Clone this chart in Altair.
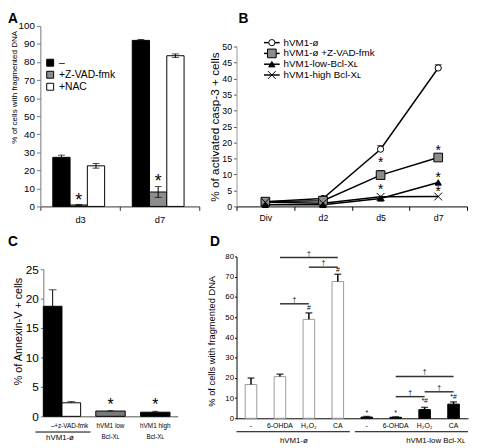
import altair as alt
import pandas as pd

FONT = "Liberation Sans"
X_SHAPE = "M-1.25,-1.25L1.25,1.25M-1.25,1.25L1.25,-1.25"
SQ_SHAPE = "M-1.4,-1.4H1.4V1.4H-1.4Z"

# ---------------- Panel A data ----------------
a_days = ["d3", "d7"]
a_treat = ["–", "+Z-VAD-fmk", "+NAC"]
a_val_d3 = [27.2, 0.8, 22.5]
a_err_d3 = [1.2, 0.3, 1.3]
a_val_d7 = [92.0, 8.0, 83.5]
a_err_d7 = [0.5, 3.0, 1.0]
a_star_day = ["d3", "d7"]
a_star_treat = ["+Z-VAD-fmk", "+Z-VAD-fmk"]
a_star_y = [5.0, 15.5]

# ---------------- Panel B data ----------------
b_days = ["Div", "d2", "d5", "d7"]
b_series = ["hVM1-ø", "hVM1-ø +Z-VAD-fmk", "hVM1-low-Bcl-Xʟ", "hVM1-high Bcl-Xʟ"]
b_val_1 = [1.5, 2.5, 17.9, 43.3]
b_val_2 = [1.5, 1.8, 9.8, 15.3]
b_val_3 = [0.5, 0.5, 2.5, 7.5]
b_val_4 = [1.3, 1.0, 3.0, 3.1]
b_err_series = ["hVM1-ø", "hVM1-ø", "hVM1-ø +Z-VAD-fmk", "hVM1-ø +Z-VAD-fmk"]
b_err_day = ["d5", "d7", "d5", "d7"]
b_err_val = [17.9, 43.3, 9.8, 15.3]
b_err = [1.1, 1.0, 1.4, 0.5]
b_star_day = ["d5", "d5", "d7", "d7", "d7"]
b_star_y = [14.4, 6.0, 18.2, 9.8, 5.5]

# ---------------- Panel C data ----------------
c_groups = ["hVM1-ø", "hVM1 low Bcl-Xʟ", "hVM1 high Bcl-Xʟ"]
c_treat = ["–", "+z-VAD-fmk"]
c_val_ctrl = [18.7, 2.3]
c_err_ctrl = [2.8, 0.2]
c_val_bcl = [0.9, 0.7]
c_err_bcl = [0.05, 0.15]
c_bcl_labels = ["hVM1 low\nBcl-Xʟ", "hVM1 high\nBcl-Xʟ"]
c_star_y = [2.6, 2.6]

# ---------------- Panel D data ----------------
d_groups = ["hVM1-ø", "hVM1-low Bcl-Xʟ"]
d_treat = ["-", "6-OHDA", "H₂O₂", "CA"]
d_val_ctrl = [16.7, 20.6, 48.9, 67.6]
d_err_ctrl = [3.2, 1.2, 3.2, 3.6]
d_val_bcl = [0.6, 0.5, 4.3, 7.0]
d_err_bcl = [0.3, 0.2, 1.1, 1.1]
d_mark_group = [0, 0, 1, 1, 1, 1]
d_mark_treat = ["H₂O₂", "CA", "-", "6-OHDA", "H₂O₂", "CA"]
d_mark_text = ["#", "#", "*", "*", "*#", "*#"]
d_mark_y = [54.5, 73.5, 2.7, 2.4, 8.3, 10.7]
d_br_group = [0, 0, 0, 1, 1, 1]
d_br_from = ["6-OHDA", "H₂O₂", "6-OHDA", "6-OHDA", "6-OHDA", "H₂O₂"]
d_br_to = ["CA", "CA", "H₂O₂", "CA", "H₂O₂", "CA"]
d_br_y = [79.5, 74.7, 56.6, 20.7, 10.7, 13.1]

panel_letters = ["A", "B", "C", "D"]


def letter(s, x, y):
    return alt.Chart(pd.DataFrame({"t": [s]})).mark_text(
        fontSize=14, fontWeight="bold", align="left", baseline="top"
    ).encode(text="t:N", x=alt.value(x), y=alt.value(y))


# ======================= Panel A =======================
A_W, A_H = 162, 184
a_df = pd.DataFrame({
    "day": [d for d in a_days for _ in a_treat],
    "treat": a_treat * len(a_days),
    "value": a_val_d3 + a_val_d7,
    "err": a_err_d3 + a_err_d7,
})
a_df["lo"] = a_df["value"] - a_df["err"]
a_df["hi"] = a_df["value"] + a_df["err"]
a_star_df = pd.DataFrame({"day": a_star_day, "treat": a_star_treat, "y": a_star_y, "t": ["*"] * len(a_star_y)})

a_xaxis = alt.Axis(title=None, labelAngle=0, tickBand="extent", tickSize=4, labelFontSize=9.5,
                   labelPadding=4, domainColor="#333", tickColor="#333", grid=False)
a_x = alt.X("day:N", scale=alt.Scale(domain=a_days, range=[0, A_W], paddingInner=0, paddingOuter=0), axis=a_xaxis)
a_xo = alt.XOffset("treat:N", scale=alt.Scale(domain=a_treat, paddingInner=0, paddingOuter=0.8, align=0.45))
a_ys = alt.Scale(domain=[0, 100], range=[A_H, 0])
a_yaxis = alt.Axis(title="% of cells with fragmented DNA", values=list(range(0, 101, 10)), tickSize=4,
                   labelFontSize=10, labelPadding=2, titleFontSize=8.2, titleFontWeight="normal",
                   titleX=-26, titleY=62, titleAngle=270, titleAlign="center", titleBaseline="middle",
                   domainColor="#777", tickColor="#777", grid=False)
a_fill = alt.Fill("treat:N", scale=alt.Scale(domain=a_treat, range=["black", "#8c8c8c", "white"]), legend=None)

a_bars = alt.Chart(a_df).mark_bar(stroke="black", strokeWidth=1).encode(
    x=a_x, xOffset=a_xo, y=alt.Y("value:Q", scale=a_ys, axis=a_yaxis), fill=a_fill)
a_rule = alt.Chart(a_df).mark_rule(color="black", strokeWidth=1).encode(
    x=a_x, xOffset=a_xo, y=alt.Y("lo:Q", scale=a_ys, axis=a_yaxis), y2="hi:Q")
a_cap_hi = alt.Chart(a_df).mark_tick(color="black", orient="horizontal", size=7, thickness=1).encode(
    x=a_x, xOffset=a_xo, y=alt.Y("hi:Q", scale=a_ys, axis=a_yaxis))
a_cap_lo = alt.Chart(a_df).mark_tick(color="black", orient="horizontal", size=7, thickness=1).encode(
    x=a_x, xOffset=a_xo, y=alt.Y("lo:Q", scale=a_ys, axis=a_yaxis))
a_stars = alt.Chart(a_star_df).mark_text(fontSize=18, dy=4, color="black").encode(
    x=a_x, xOffset=a_xo, y=alt.Y("y:Q", scale=a_ys, axis=a_yaxis), text="t:N")
a_main = alt.layer(a_bars, a_rule, a_cap_hi, a_cap_lo, a_stars)

a_leg_df = pd.DataFrame({"treat": a_treat})
a_leg_y = alt.Y("treat:N", scale=alt.Scale(type="point", domain=a_treat, range=[37.5, 62], padding=0), axis=None)
a_leg_sq = alt.Chart(a_leg_df).mark_point(shape="square", filled=True, stroke="black", strokeWidth=1,
                                          opacity=1, size=50).encode(x=alt.value(10), y=a_leg_y, fill=a_fill)
a_leg_txt = alt.Chart(a_leg_df).mark_text(align="left", baseline="middle", fontSize=10.5).encode(
    x=alt.value(19), y=a_leg_y, text="treat:N")
a_leg = alt.layer(a_leg_sq, a_leg_txt)

panel_a = alt.layer(a_main, a_leg, letter(panel_letters[0], -33, -14)).resolve_scale(y="independent").properties(
    width=A_W, height=A_H)

# ======================= Panel B =======================
B_W, B_H = 235, 184
b_df = pd.DataFrame({
    "series": [s for s in b_series for _ in b_days],
    "day": b_days * len(b_series),
    "value": b_val_1 + b_val_2 + b_val_3 + b_val_4,
})
b_err_df = pd.DataFrame({"series": b_err_series, "day": b_err_day, "value": b_err_val, "err": b_err})
b_err_df["hi"] = b_err_df["value"] + b_err_df["err"]
b_star_df = pd.DataFrame({"day": b_star_day, "y": b_star_y, "t": ["*"] * len(b_star_y)})

b_ys = alt.Scale(domain=[0, 50], range=[B_H, 21])
b_yaxis = alt.Axis(title="% of activated casp-3 + cells", values=list(range(0, 51, 5)), tickSize=3,
                   labelFontSize=9, labelPadding=2, titleFontSize=12, titleFontWeight="normal",
                   titleX=-22, titleY=(B_H + 21) / 2, titleAngle=270, titleAlign="center",
                   titleBaseline="middle", domainColor="#999", tickColor="#555", grid=False)
b_x = alt.X("day:N", scale=alt.Scale(domain=b_days, range=[0, B_W], paddingInner=0, paddingOuter=0),
            bandPosition=0.5,
            axis=alt.Axis(title=None, labelAngle=0, tickBand="extent", tickSize=4, labelFontSize=9,
                          labelPadding=3, domainColor="black", tickColor="black", grid=False))
b_shape = alt.Shape("series:N", scale=alt.Scale(domain=b_series, range=["circle", SQ_SHAPE, "triangle-up", X_SHAPE]),
                    legend=None)
b_fill = alt.Fill("series:N", scale=alt.Scale(domain=b_series, range=["white", "#8c8c8c", "black", "black"]),
                  legend=None)

b_line = alt.Chart(b_df).mark_line(color="black", strokeWidth=1.5).encode(
    x=b_x, y=alt.Y("value:Q", scale=b_ys, axis=b_yaxis), detail="series:N")
b_err_rule = alt.Chart(b_err_df).mark_rule(color="black", strokeWidth=1).encode(
    x=b_x, y=alt.Y("value:Q", scale=b_ys, axis=b_yaxis), y2="hi:Q")
b_err_cap = alt.Chart(b_err_df).mark_tick(color="black", orient="horizontal", size=7, thickness=1.2).encode(
    x=b_x, y=alt.Y("hi:Q", scale=b_ys, axis=b_yaxis))
b_pts = alt.Chart(b_df).mark_point(filled=True, stroke="black", strokeWidth=1, opacity=1, size=40).encode(
    x=b_x, y=alt.Y("value:Q", scale=b_ys, axis=b_yaxis), shape=b_shape, fill=b_fill)
b_stars = alt.Chart(b_star_df).mark_text(fontSize=14, dy=3, color="black").encode(
    x=b_x, y=alt.Y("y:Q", scale=b_ys, axis=b_yaxis), text="t:N")
b_main = alt.layer(b_line, b_err_rule, b_err_cap, b_pts, b_stars)

b_leg_df = pd.DataFrame({"series": b_series})
b_leg_y = alt.Y("series:N", scale=alt.Scale(type="point", domain=b_series, range=[17, 50], padding=0), axis=None)
b_leg_line = alt.Chart(b_leg_df).mark_rule(color="black", strokeWidth=1.5).encode(
    x=alt.value(28), x2=alt.value(44), y=b_leg_y)
b_leg_pts = alt.Chart(b_leg_df).mark_point(filled=True, stroke="black", strokeWidth=1, opacity=1, size=40).encode(
    x=alt.value(36), y=b_leg_y, shape=b_shape, fill=b_fill)
b_leg_txt = alt.Chart(b_leg_df).mark_text(align="left", baseline="middle", fontSize=10).encode(
    x=alt.value(48), y=b_leg_y, text="series:N")
b_leg = alt.layer(b_leg_line, b_leg_pts, b_leg_txt)

panel_b = alt.layer(b_main, b_leg, letter(panel_letters[1], 2, -14)).resolve_scale(y="independent").properties(
    width=B_W, height=B_H)

# ======================= Panel C =======================
C_W, C_H = 161, 163
c_ctrl_df = pd.DataFrame({"group": [c_groups[0]] * 2, "treat": c_treat, "value": c_val_ctrl, "err": c_err_ctrl})
c_ctrl_df["hi"] = c_ctrl_df["value"] + c_ctrl_df["err"]
c_bcl_df = pd.DataFrame({"group": c_groups[1:], "value": c_val_bcl, "err": c_err_bcl,
                         "lab": c_bcl_labels, "y": c_star_y, "t": ["*"] * 2})
c_bcl_df["hi"] = c_bcl_df["value"] + c_bcl_df["err"]

c_ys = alt.Scale(domain=[0, 25], range=[C_H, 13])
c_yaxis = alt.Axis(title="% of Annexin-V + cells", values=list(range(0, 26, 5)), tickSize=3, offset=-3,
                   labelFontSize=12, labelPadding=2, titleFontSize=11, titleFontWeight="normal",
                   titleX=-25, titleY=76, titleAngle=270, titleAlign="center", titleBaseline="middle",
                   domainColor="#777", tickColor="#777", grid=False)
c_xaxis = alt.Axis(title=None, labels=False, ticks=False, domainColor="#555", grid=False)
c_xs = alt.Scale(domain=c_groups, range=[3, 140], paddingInner=0, paddingOuter=0)
c_x = alt.X("group:N", scale=c_xs, axis=c_xaxis)
c_xo = alt.XOffset("treat:N", scale=alt.Scale(domain=c_treat, paddingInner=0, paddingOuter=0.2, align=0))

c_bars1 = alt.Chart(c_ctrl_df).mark_bar(stroke="black", strokeWidth=1).encode(
    x=c_x, xOffset=c_xo, y=alt.Y("value:Q", scale=c_ys, axis=c_yaxis),
    fill=alt.Fill("treat:N", scale=alt.Scale(domain=c_treat, range=["black", "white"]), legend=None))
c_err1 = alt.Chart(c_ctrl_df).mark_rule(color="black").encode(
    x=c_x, xOffset=c_xo, y=alt.Y("value:Q", scale=c_ys, axis=c_yaxis), y2="hi:Q")
c_cap1 = alt.Chart(c_ctrl_df).mark_tick(color="black", orient="horizontal", size=8, thickness=1).encode(
    x=c_x, xOffset=c_xo, y=alt.Y("hi:Q", scale=c_ys, axis=c_yaxis))
c_bars2 = alt.Chart(c_bcl_df).mark_bar(stroke="black", strokeWidth=1, size=30).encode(
    x=c_x, y=alt.Y("value:Q", scale=c_ys, axis=c_yaxis),
    fill=alt.Fill("group:N", scale=alt.Scale(domain=c_groups[1:], range=["#7a7a7a", "black"]), legend=None))
c_err2 = alt.Chart(c_bcl_df).mark_rule(color="black").encode(
    x=c_x, y=alt.Y("value:Q", scale=c_ys, axis=c_yaxis), y2="hi:Q")
c_cap2 = alt.Chart(c_bcl_df).mark_tick(color="black", orient="horizontal", size=6, thickness=1).encode(
    x=c_x, y=alt.Y("hi:Q", scale=c_ys, axis=c_yaxis))
c_stars = alt.Chart(c_bcl_df).mark_text(fontSize=16, dy=4, color="black").encode(
    x=c_x, y=alt.Y("y:Q", scale=c_ys, axis=c_yaxis), text="t:N")
c_lab1 = alt.Chart(c_ctrl_df).mark_text(fontSize=6.5, baseline="top").encode(
    x=c_x, xOffset=c_xo, y=alt.value(169.5), text="treat:N")
c_lab2 = alt.Chart(c_bcl_df).mark_text(fontSize=6.5, baseline="top", lineBreak="\n", lineHeight=12).encode(
    x=c_x, y=alt.value(169.5), text="lab:N")
c_grp_df = pd.DataFrame({"t": [c_groups[0]]})
c_grp_rule = alt.Chart(c_grp_df).mark_rule(color="black", strokeWidth=1).encode(
    x=alt.value(-5), x2=alt.value(51), y=alt.value(179))
c_grp_txt = alt.Chart(c_grp_df).mark_text(fontSize=8, baseline="middle").encode(
    x=alt.value(20), y=alt.value(185.5), text="t:N")

panel_c = alt.layer(c_bars1, c_err1, c_cap1, c_bars2, c_err2, c_cap2, c_stars, c_lab1, c_lab2,
                    c_grp_rule, c_grp_txt, letter(panel_letters[2], -33, -22)).resolve_scale(
    fill="independent").properties(width=C_W, height=C_H)

# ======================= Panel D =======================
D_W, D_H = 236, 165
d_keys = [f"{g}|{t}" for g in d_groups for t in d_treat]
d_df = pd.DataFrame({
    "key": d_keys,
    "group": [g for g in d_groups for _ in d_treat],
    "value": d_val_ctrl + d_val_bcl,
    "err": d_err_ctrl + d_err_bcl,
})
d_df["hi"] = d_df["value"] + d_df["err"]
d_mark_df = pd.DataFrame({
    "key": [f"{d_groups[g]}|{t}" for g, t in zip(d_mark_group, d_mark_treat)],
    "y": d_mark_y, "t": d_mark_text,
})
br_from_idx = [d_treat.index(t) for t in d_br_from]
br_to_idx = [d_treat.index(t) for t in d_br_to]
d_br_df = pd.DataFrame({
    "from_key": [f"{d_groups[g]}|{t}" for g, t in zip(d_br_group, d_br_from)],
    "to_key": [f"{d_groups[g]}|{t}" for g, t in zip(d_br_group, d_br_to)],
    "mid_key": [f"{d_groups[g]}|{d_treat[(a + b) // 2]}" for g, a, b in zip(d_br_group, br_from_idx, br_to_idx)],
    "even": [((b - a) % 2 == 0) for a, b in zip(br_from_idx, br_to_idx)],
    "y": d_br_y, "t": ["†"] * len(d_br_y),
})

d_ys = alt.Scale(domain=[0, 80], range=[D_H, 0])
d_yaxis = alt.Axis(title="% of cells with fragmented DNA", values=list(range(0, 81, 10)), tickSize=2,
                   labelFontSize=8, labelPadding=1, titleFontSize=9.5, titleFontWeight="normal",
                   titleX=-25, titleY=86, titleAngle=270, titleAlign="center", titleBaseline="middle",
                   domainColor="black", tickColor="black", grid=False)
d_xs = alt.Scale(domain=d_keys, range=[0, D_W], paddingInner=0.6, paddingOuter=0.3)
d_xaxis = alt.Axis(title=None, labelExpr="split(datum.value, '|')[1]", labelAngle=0, ticks=False,
                   labelFontSize=7, labelPadding=3, domainColor="black", grid=False)
d_x = alt.X("key:N", scale=d_xs, axis=d_xaxis)
d_xc = alt.X("key:N", scale=d_xs, axis=d_xaxis, bandPosition=0.5)

d_bars = alt.Chart(d_df).mark_bar(strokeWidth=1).encode(
    x=d_x, y=alt.Y("value:Q", scale=d_ys, axis=d_yaxis),
    fill=alt.Fill("group:N", scale=alt.Scale(domain=d_groups, range=["white", "black"]), legend=None),
    stroke=alt.Stroke("group:N", scale=alt.Scale(domain=d_groups, range=["#9a9a9a", "black"]), legend=None))
d_err = alt.Chart(d_df).mark_rule(color="black", strokeWidth=1.5).encode(
    x=d_xc, y=alt.Y("value:Q", scale=d_ys, axis=d_yaxis), y2="hi:Q")
d_cap = alt.Chart(d_df).mark_tick(color="black", orient="horizontal", size=7, thickness=1.5).encode(
    x=d_xc, y=alt.Y("hi:Q", scale=d_ys, axis=d_yaxis))
d_marks = alt.Chart(d_mark_df).mark_text(fontSize=7, baseline="middle").encode(
    x=d_xc, y=alt.Y("y:Q", scale=d_ys, axis=d_yaxis), text="t:N")
d_br = alt.Chart(d_br_df).mark_rule(color="#333", strokeWidth=1.5).encode(
    x=alt.X("from_key:N", scale=d_xs, axis=d_xaxis, bandPosition=0.5),
    x2=alt.X2("to_key:N", bandPosition=0.5),
    y=alt.Y("y:Q", scale=d_ys, axis=d_yaxis))
d_dag_even = alt.Chart(d_br_df[d_br_df["even"]]).mark_text(fontSize=7, baseline="bottom", dy=-1).encode(
    x=alt.X("mid_key:N", scale=d_xs, axis=d_xaxis, bandPosition=0.5),
    y=alt.Y("y:Q", scale=d_ys, axis=d_yaxis), text="t:N")
d_dag_odd = alt.Chart(d_br_df[~d_br_df["even"]]).mark_text(fontSize=7, baseline="bottom", dy=-1, dx=14.75).encode(
    x=alt.X("mid_key:N", scale=d_xs, axis=d_xaxis, bandPosition=0.5),
    y=alt.Y("y:Q", scale=d_ys, axis=d_yaxis), text="t:N")
d_grp_df = pd.DataFrame({"t": d_groups})
d_g1_rule = alt.Chart(d_grp_df.iloc[[0]]).mark_rule(color="black").encode(
    x=alt.value(0), x2=alt.value(115.5), y=alt.value(178.7))
d_g2_rule = alt.Chart(d_grp_df.iloc[[1]]).mark_rule(color="black").encode(
    x=alt.value(120.6), x2=alt.value(236), y=alt.value(178.7))
d_g1_txt = alt.Chart(d_grp_df.iloc[[0]]).mark_text(fontSize=8, baseline="middle").encode(
    x=alt.value(58.4), y=alt.value(188), text="t:N")
d_g2_txt = alt.Chart(d_grp_df.iloc[[1]]).mark_text(fontSize=8, baseline="middle").encode(
    x=alt.value(203), y=alt.value(188), text="t:N")

panel_d = alt.layer(d_bars, d_err, d_cap, d_marks, d_br, d_dag_even, d_dag_odd, d_g1_rule, d_g2_rule,
                    d_g1_txt, d_g2_txt, letter(panel_letters[3], -27, -22)).properties(width=D_W, height=D_H)

chart = alt.concat(
    panel_a, panel_b, panel_c, panel_d,
    columns=2, spacing={"row": 51, "column": 38}, align="none", bounds="flush",
).resolve_scale(
    fill="independent", stroke="independent", shape="independent", xOffset="independent"
).properties(padding=0).configure(font=FONT).configure_view(stroke=None)

chart.save("out.html", embed_options={"renderer": "svg", "actions": False})
